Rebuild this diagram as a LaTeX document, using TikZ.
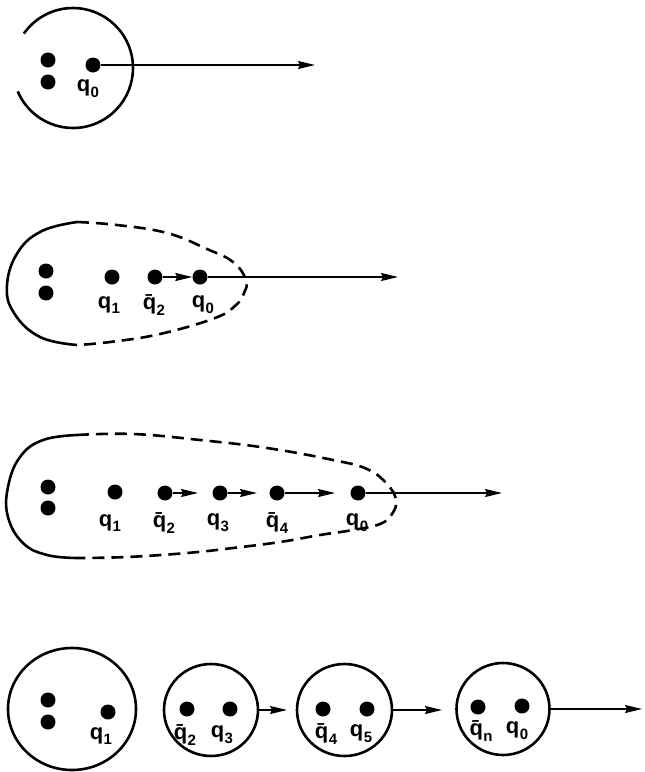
\documentclass[tikz,border=0pt]{standalone}
\usepackage{fontspec}
\setmainfont{Liberation Sans}
\usetikzlibrary{arrows.meta,shapes.geometric}
\newcommand{\qq}[1]{q\kern0.4pt\raisebox{-0.5ex}{\fontsize{15}{15}\selectfont #1}}
\newcommand{\qb}[1]{\={q}\kern0.4pt\raisebox{-0.5ex}{\fontsize{15}{15}\selectfont #1}}
\begin{document}
\begin{tikzpicture}[x=1pt,y=1pt,
  dot/.style={circle,fill=black,inner sep=0pt,minimum size=15pt},
  lab/.style={inner sep=0pt,font=\fontsize{22}{22}\selectfont\bfseries},
  arr/.style={line width=1.8pt,-{Stealth[length=17pt,width=8pt,inset=2pt]}},
  outline/.style={line width=2.6pt},
  dashline/.style={line width=2.6pt,dash pattern=on 12pt off 7pt},
  cell/.style={draw,ellipse,line width=2.6pt,inner sep=0pt}]
\useasboundingbox (0,0) rectangle (645,-772);

% ---------- panel 1 ----------
\draw[outline] (73,-68) ++(203:60) arc[start angle=203,end angle=505,radius=60];
\node[dot] (p1a) at (48,-60) {};
\node[dot] (p1b) at (48,-82) {};
\node[dot] (p1q0) at (93,-65) {};
\coordinate (p1e) at (315,-65);
\draw[arr] (p1q0) -- (p1e);
\node[lab] (l1q0) at (88,-89) {\qq{0}};

% ---------- panel 2 ----------
\draw[outline] plot[smooth,tension=0.7] coordinates {(77,-222) (42,-231) (18,-252) (7,-285) (14,-313) (40,-337) (77,-345)};
\draw[dashline] plot[smooth,tension=0.7] coordinates {(77,-222) (117,-225) (167,-233) (207,-249) (233,-262) (246,-280) (244,-293) (236,-305) (215,-318) (160,-334) (110,-342) (77,-345)};
\node[dot] (p2a) at (46,-271) {};
\node[dot] (p2b) at (46,-293) {};
\node[dot] (p2q1) at (112,-277) {};
\node[dot] (p2q2) at (155,-277) {};
\node[dot] (p2q0) at (200,-277) {};
\coordinate (p2e) at (398,-277);
\draw[arr] (p2q2) -- (p2q0);
\draw[arr] (p2q0) -- (p2e);
\node[lab] (l2q1) at (109,-305) {\qq{1}};
\node[lab] (l2q2) at (154,-305) {\qb{2}};
\node[lab] (l2q0) at (203,-305) {\qq{0}};

% ---------- panel 3 ----------
\draw[outline] plot[smooth,tension=0.7] coordinates {(77,-435) (43,-440) (20,-457) (8,-487) (8,-517) (23,-543) (47,-555) (77,-558)};
\draw[dashline] plot[smooth,tension=0.7] coordinates {(77,-435) (133,-434) (200,-440) (267,-448) (333,-460) (367,-469) (387,-484) (396,-500) (392,-514) (380,-524) (353,-530) (320,-535) (280,-542) (233,-548) (187,-553) (127,-557) (77,-558)};
\node[dot] (p3a) at (48,-487) {};
\node[dot] (p3b) at (48,-508) {};
\node[dot] (p3q1) at (115,-492) {};
\node[dot] (p3q2) at (165,-493) {};
\node[dot] (p3q3) at (220,-493) {};
\node[dot] (p3q4) at (277,-493) {};
\node[dot] (p3q0) at (358,-493) {};
\coordinate (p3e2) at (198,-493);
\coordinate (p3e3) at (257,-493);
\coordinate (p3e4) at (335,-493);
\coordinate (p3e0) at (502,-493);
\draw[arr] (p3q2) -- (p3e2);
\draw[arr] (p3q3) -- (p3e3);
\draw[arr] (p3q4) -- (p3e4);
\draw[arr] (p3q0) -- (p3e0);
\node[lab] (l3q1) at (110,-523) {\qq{1}};
\node[lab] (l3q2) at (164,-523) {\qb{2}};
\node[lab] (l3q3) at (218,-523) {\qq{3}};
\node[lab] (l3q4) at (277,-523) {\qb{4}};
\node[lab] (l3q0) at (357,-523) {\qq{0}};

% ---------- panel 4 ----------
\node[cell,minimum width=128pt,minimum height=122pt] (c1) at (72,-709) {};
\node[dot] (p4a) at (48,-700) {};
\node[dot] (p4b) at (48,-722) {};
\node[dot] (p4q1) at (108,-712) {};
\node[lab] (l4q1) at (101,-736) {\qq{1}};

\node[cell,minimum width=94pt,minimum height=92pt] (c2) at (211,-710) {};
\node[dot] (p4q2) at (187,-709) {};
\node[dot] (p4q3) at (230,-709) {};
\node[lab] (l4q2) at (185,-735) {\qb{2}};
\node[lab] (l4q3) at (222,-735) {\qq{3}};

\node[cell,minimum width=95pt,minimum height=92pt] (c3) at (344.5,-710) {};
\node[dot] (p4q4) at (323,-709) {};
\node[dot] (p4q5) at (367,-709) {};
\node[lab] (l4q4) at (326,-734) {\qb{4}};
\node[lab] (l4q5) at (361,-734) {\qq{5}};

\node[cell,minimum width=93pt,minimum height=92pt] (c4) at (503,-709) {};
\node[dot] (p4qn) at (478,-707) {};
\node[dot] (p4q0) at (522,-706) {};
\node[lab] (l4qn) at (481,-731) {\qb{n}};
\node[lab] (l4q0) at (517,-731) {\qq{0}};

\coordinate (e2) at (287,-710);
\coordinate (e3) at (442,-710);
\coordinate (e4) at (642,-709);
\draw[arr] (c2.east) -- (e2);
\draw[arr] (c3.east) -- (e3);
\draw[arr] (c4.east) -- (e4);
\end{tikzpicture}
\end{document}
